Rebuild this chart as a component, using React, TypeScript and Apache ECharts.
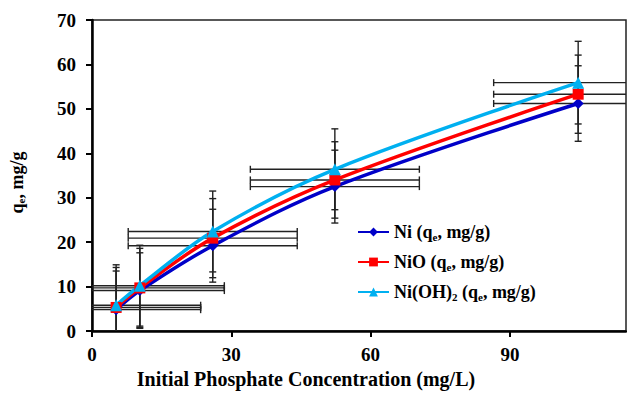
import React, { useEffect, useRef } from "react";
import * as echarts from "echarts";

const xValues = [5.2, 10.3, 26, 52.3, 104.7];
const niValues = [4.8, 9.1, 19.2, 32.5, 51.2];
const nioValues = [5.3, 9.7, 20.9, 34.0, 53.3];
const niohValues = [5.8, 10.2, 22.4, 36.4, 55.9];
const niErrY = [8.7, 8.5, 8.2, 8.2, 8.5];
const nioErrY = [9.0, 8.9, 8.9, 8.6, 8.8];
const niohErrY = [9.1, 9.1, 9.1, 9.1, 9.3];
const errX = [18.2, 18.2, 18.2, 18.2, 18.2];
const seriesNames = ["Ni (q{sub|e}, mg/g)", "NiO (q{sub|e}, mg/g)", "Ni(OH){sub|2} (q{sub|e}, mg/g)"];

const X_MIN = 0, X_MAX = 115, Y_MIN = 0, Y_MAX = 70;
const FONT = "'Liberation Serif', 'Times New Roman', serif";

function errorSeries(values: number[], errY: number[], name: string) {
  return {
    type: "custom",
    name: name + "_err",
    silent: true,
    z: 1,
    data: xValues.map((x, i) => [x, values[i], errX[i], errY[i]]),
    encode: { x: 0, y: 1 },
    renderItem: (params: any, api: any) => {
      const x = api.value(0), y = api.value(1), ex = api.value(2), ey = api.value(3);
      const cx = (v: number) => Math.max(X_MIN, Math.min(X_MAX, v));
      const cy = (v: number) => Math.max(Y_MIN, Math.min(Y_MAX, v));
      const p = api.coord([x, y]);
      const xl = api.coord([cx(x - ex), y])[0];
      const xr = api.coord([cx(x + ex), y])[0];
      const yt = api.coord([x, cy(y + ey)])[1];
      const yb = api.coord([x, cy(y - ey)])[1];
      const style = { stroke: "#222", lineWidth: 1.4 };
      const cap = 3.5;
      const children: any[] = [
        { type: "line", shape: { x1: xl, y1: p[1], x2: xr, y2: p[1] }, style },
        { type: "line", shape: { x1: p[0], y1: yt, x2: p[0], y2: yb }, style },
      ];
      if (x - ex >= X_MIN) children.push({ type: "line", shape: { x1: xl, y1: p[1] - cap, x2: xl, y2: p[1] + cap }, style });
      if (x + ex <= X_MAX) children.push({ type: "line", shape: { x1: xr, y1: p[1] - cap, x2: xr, y2: p[1] + cap }, style });
      if (y + ey <= Y_MAX) children.push({ type: "line", shape: { x1: p[0] - cap, y1: yt, x2: p[0] + cap, y2: yt }, style });
      if (y - ey >= Y_MIN) children.push({ type: "line", shape: { x1: p[0] - cap, y1: yb, x2: p[0] + cap, y2: yb }, style });
      return { type: "group", children };
    },
  };
}

function lineSeries(values: number[], name: string, color: string, symbol: string, size: number) {
  return {
    type: "line",
    name,
    z: 3,
    smooth: 0.35,
    symbol,
    symbolSize: size,
    data: xValues.map((x, i) => [x, values[i]]),
    itemStyle: { color },
    lineStyle: { color, width: 3.5 },
  };
}

export default function App() {
  const ref = useRef<HTMLDivElement>(null);
  useEffect(() => {
    if (!ref.current) return;
    const chart = echarts.init(ref.current, null, { renderer: "svg" });
    const rich = {
      sub: { fontSize: 11, fontWeight: "bold", fontFamily: FONT, color: "#000", verticalAlign: "bottom", padding: [6, 0, 0, 0] },
    };
    chart.setOption({
      animation: false,
      backgroundColor: "#fff",
      grid: { left: 92, top: 20, right: 1, bottom: 63, show: true, borderColor: "#222", borderWidth: 1.5, backgroundColor: "transparent" },
      legend: {
        data: seriesNames,
        orient: "vertical",
        left: 352,
        top: 217,
        itemWidth: 31,
        itemHeight: 11,
        itemGap: 10,
        textStyle: { fontFamily: FONT, fontWeight: "bold", fontSize: 18, color: "#000", lineHeight: 20, rich },
      },
      xAxis: {
        type: "value",
        min: X_MIN,
        max: X_MAX,
        interval: 30,
        name: "Initial Phosphate Concentration (mg/L)",
        nameLocation: "middle",
        nameGap: 34,
        nameTextStyle: { fontFamily: FONT, fontWeight: "bold", fontSize: 20, color: "#000", padding: [0, 106, 0, 0] },
        splitLine: { show: false },
        axisLine: { lineStyle: { color: "#000", width: 2.5 } },
        axisTick: { inside: false, length: 6, lineStyle: { color: "#000", width: 2 } },
        axisLabel: { fontFamily: FONT, fontWeight: "bold", fontSize: 19, color: "#000", margin: 14, showMaxLabel: false },
      },
      yAxis: {
        type: "value",
        min: Y_MIN,
        max: Y_MAX,
        interval: 10,
        name: "q{sub|e}, mg/g",
        nameLocation: "middle",
        nameGap: 66,
        nameRotate: 90,
        nameTextStyle: { fontFamily: FONT, fontWeight: "bold", fontSize: 18, color: "#000", padding: [0, 14, 0, 0], rich },
        splitLine: { show: false },
        axisLine: { lineStyle: { color: "#000", width: 2.5 } },
        axisTick: { inside: false, length: 6, lineStyle: { color: "#000", width: 2 } },
        axisLabel: { fontFamily: FONT, fontWeight: "bold", fontSize: 19, color: "#000", margin: 16 },
      },
      series: [
        errorSeries(niValues, niErrY, "ni"),
        errorSeries(nioValues, nioErrY, "nio"),
        errorSeries(niohValues, niohErrY, "nioh"),
        lineSeries(niValues, seriesNames[0], "#0000C8", "diamond", 11),
        lineSeries(nioValues, seriesNames[1], "#FF0000", "rect", 11),
        lineSeries(niohValues, seriesNames[2], "#00B0F0", "triangle", 12),
      ],
    });
    return () => chart.dispose();
  }, []);
  return <div ref={ref} style={{ position: "fixed", left: 0, top: 0, width: 627, height: 394 }} />;
}
